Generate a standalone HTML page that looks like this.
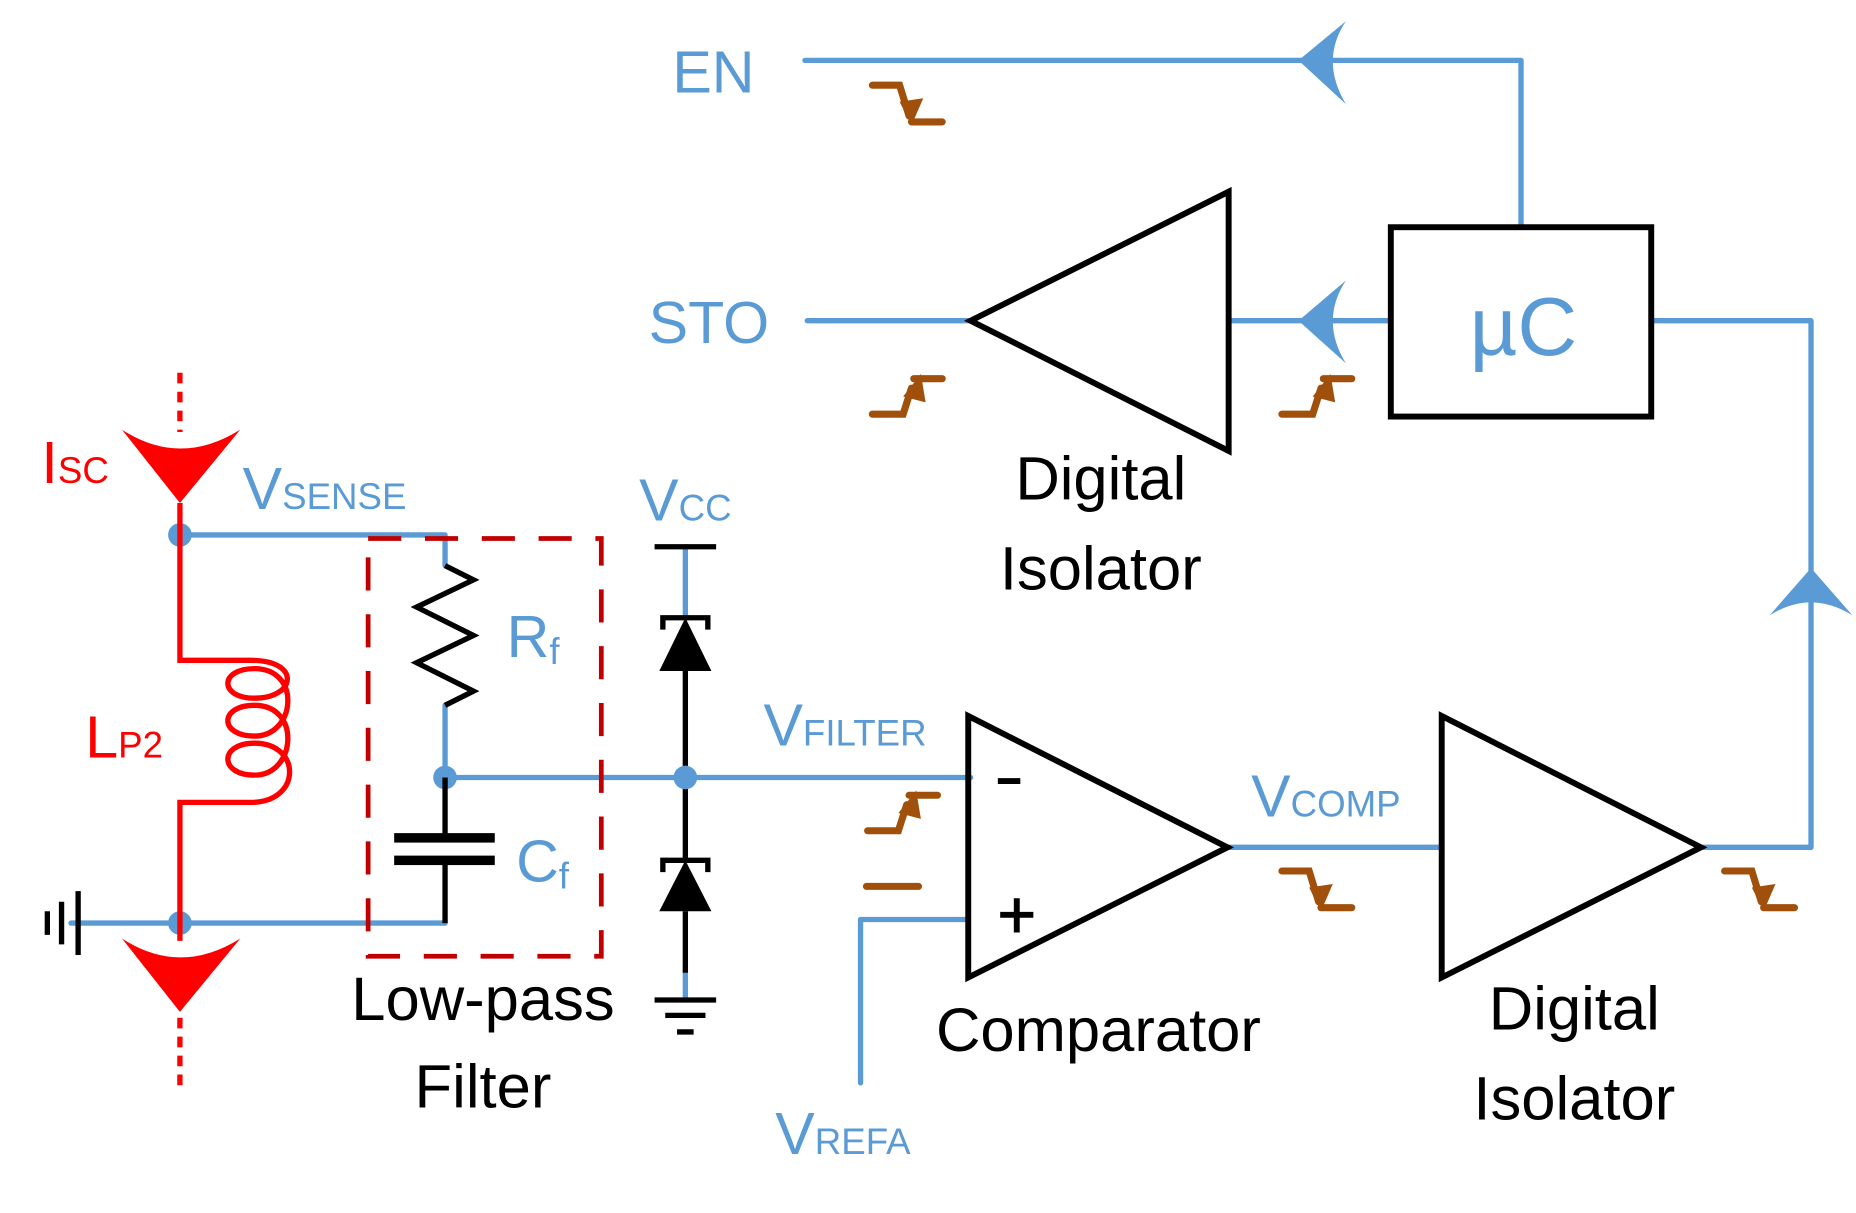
<!DOCTYPE html>
<html><head><meta charset="utf-8"><style>
html,body{margin:0;padding:0;background:#fff;}
svg{display:block;}
text{font-family:"Liberation Sans",sans-serif;}
</style></head><body>
<svg width="1856" height="1213" viewBox="0 0 1568 1025" preserveAspectRatio="none" xmlns="http://www.w3.org/2000/svg">
<defs>
<g id="fall"><path d="M737 72 L760 72 L768 98" fill="none" stroke="#a0500a" stroke-width="6" stroke-linecap="round"/><path d="M760 86 L780 83 L770 106 Z" fill="#a0500a"/><path d="M770 103 L796 103" stroke="#a0500a" stroke-width="6" stroke-linecap="round"/></g>
<g id="rise"><path d="M737 350 L763 350 L770 328" fill="none" stroke="#a0500a" stroke-width="6" stroke-linecap="round"/><path d="M763 335 L782 340 L778 316 Z" fill="#a0500a"/><path d="M772 320 L796 320" stroke="#a0500a" stroke-width="6" stroke-linecap="round"/></g>
</defs>
<g fill="none" stroke="#5b9bd5" stroke-width="4.5" stroke-linecap="round" stroke-linejoin="round">
<path d="M680 51 L1285 51 L1285 192"/>
<path d="M682 271 L820 271"/>
<path d="M1040 271 L1175 271"/>
<path d="M1395 271 L1530 271 L1530 716 L1437 716"/>
<path d="M152 452 L376 452 L376 478"/>
<path d="M376 596 L376 657 L820 657"/>
<path d="M60 780 L376 780"/>
<path d="M579 462 L579 520"/>
<path d="M579 820 L579 845"/>
<path d="M727 915 L727 777 L818 777"/>
<path d="M1037 716 L1218 716"/>
</g>
<g fill="#5b9bd5">
<path d="M1097 51 L1137 18 Q1115 51 1137 88 Z"/>
<path d="M1097 271 L1137 237 Q1115 271 1137 307 Z"/>
<path d="M1530 480 L1495 520 Q1530 498 1565 520 Z"/>
<circle cx="152" cy="452" r="10"/><circle cx="152" cy="780" r="10"/>
<circle cx="376" cy="657" r="10"/>
</g>
<g fill="none" stroke="#ff0000" stroke-width="4.5">
<path d="M152 315 L152 365" stroke-dasharray="9 7"/>
<path d="M152 860 L152 922" stroke-dasharray="9 7"/>
<path d="M152 425 L152 558 L212 558 C255 558 250 590 215 590 C185 590 185 565 215 565 C255 565 250 622 215 622 C185 622 185 596 215 596 C255 596 250 655 215 655 C185 655 185 628 215 628 C255 628 255 678 212 678 L152 678 L152 795"/>
</g>
<g fill="#ff0000">
<path d="M103 363 Q152 395 203 363 L152 425 Z"/>
<path d="M103 793 Q152 825 203 793 L152 855 Z"/>
</g>
<rect x="311" y="455" width="197" height="353" fill="none" stroke="#c00000" stroke-width="4" stroke-dasharray="28 20"/>
<g fill="none" stroke="#000" stroke-width="4.5" stroke-linejoin="miter">
<path d="M376 478 L400 490 L352 513 L400 537 L352 560 L400 584 L376 596"/>
<path d="M376 657 L376 708 M376 727 L376 780"/>
<path d="M553 462 L605 462"/>
<path d="M560 532 L560 522 L598 522 L598 532"/>
<path d="M579 567 L579 657"/>
<path d="M579 657 L579 727"/>
<path d="M560 737 L560 727 L598 727 L598 737"/>
<path d="M579 770 L579 822"/>
<path d="M553 845 L605 845 M562 858 L596 858 M572 872 L586 872"/>
<path d="M66 753 L66 807 M52 762 L52 798 M40 770 L40 790"/>
<path d="M818 605 L818 826 L1037 716 Z" stroke-width="5"/>
<path d="M1218 605 L1218 826 L1437 716 Z" stroke-width="5"/>
<path d="M1038 162 L1038 381 L820 271 Z" stroke-width="5"/>
<rect x="1175" y="192" width="220" height="160" stroke-width="5"/>
<path d="M843 660 L862 660 M845 773 L873 773 M859 759 L859 788" stroke-width="5"/>
</g>
<g fill="#000">
<rect x="333" y="704" width="85" height="8"/><rect x="333" y="723" width="85" height="8"/>
<path d="M579 522 L557 567 L601 567 Z"/><path d="M579 727 L557 770 L601 770 Z"/>
</g>
<circle cx="579" cy="657" r="10" fill="#5b9bd5"/>
<use href="#fall"/>
<use href="#rise"/>
<use href="#rise" transform="translate(346 0)"/>
<use href="#rise" transform="translate(-4 352)"/>
<use href="#fall" transform="translate(346 664)"/>
<use href="#fall" transform="translate(720 664)"/>
<path d="M732 749 L776 749" stroke="#a0500a" stroke-width="6" stroke-linecap="round"/>
<g fill="#5b9bd5">
<text x="568" y="78" font-size="50">EN</text>
<text x="548" y="290" font-size="50">STO</text>
<text x="1287" y="300" font-size="70" text-anchor="middle">µC</text>
<text x="205" y="430" font-size="50">V<tspan font-size="31">SENSE</tspan></text>
<text x="540" y="440" font-size="50">V<tspan font-size="31">CC</tspan></text>
<text x="428" y="555" font-size="50">R<tspan font-size="31" dy="6">f</tspan></text>
<text x="436" y="745" font-size="50">C<tspan font-size="31" dy="6">f</tspan></text>
<text x="645" y="630" font-size="50">V<tspan font-size="31">FILTER</tspan></text>
<text x="1057" y="690" font-size="50">V<tspan font-size="31">COMP</tspan></text>
<text x="655" y="975" font-size="50">V<tspan font-size="31">REFA</tspan></text>
</g>
<g fill="#ff0000">
<text x="35" y="408" font-size="50">I<tspan font-size="31">SC</tspan></text>
<text x="72" y="640" font-size="50">L<tspan font-size="31">P2</tspan></text>
</g>
<g fill="#000" font-size="52" text-anchor="middle">
<text x="930" y="422">Digital</text>
<text x="930" y="498">Isolator</text>
<text x="408" y="862">Low-pass</text>
<text x="408" y="936">Filter</text>
<text x="928" y="888">Comparator</text>
<text x="1330" y="870">Digital</text>
<text x="1330" y="946">Isolator</text>
</g>
</svg>
</body></html>
